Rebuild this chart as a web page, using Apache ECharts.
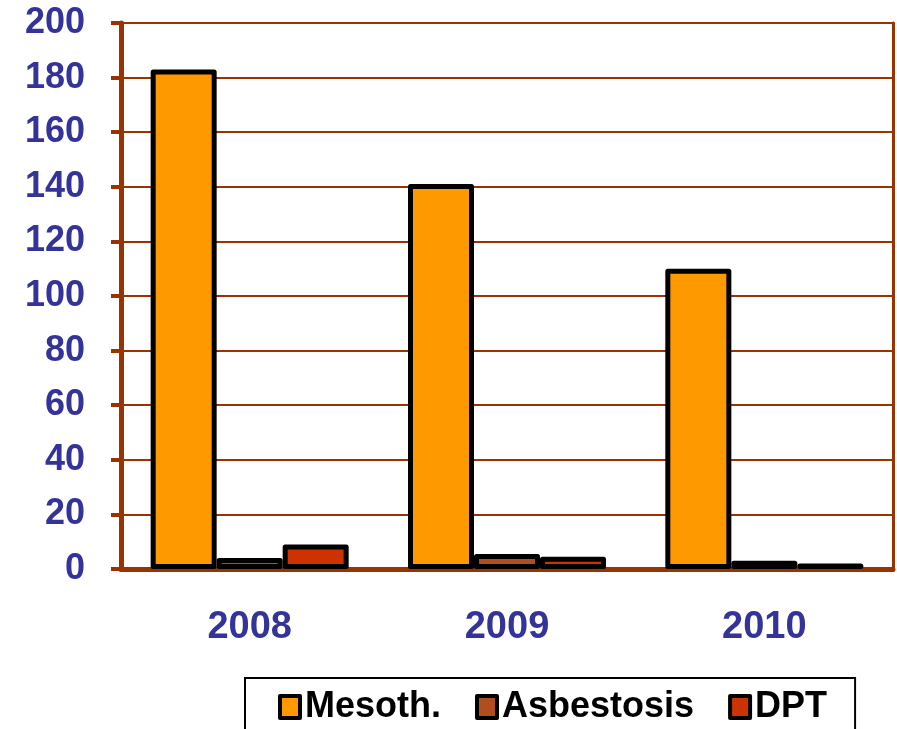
<!DOCTYPE html>
<html>
<head>
<meta charset="utf-8">
<script src="https://cdn.jsdelivr.net/npm/echarts@6/dist/echarts.min.js"></script>
<style>
html,body{margin:0;padding:0;background:#fff;}
#chart{width:897px;height:729px;}
</style>
</head>
<body>
<div id="chart"></div>
<script>
var categories = ['2008', '2009', '2010'];
var mesothValues = [183, 141, 110];
var asbestosisValues = [4, 5.5, 3];
var dptValues = [9, 4.5, 2];
var seriesNames = ['Mesoth.', 'Asbestosis', 'DPT'];
var yTicks = { min: 0, max: 200, interval: 20 };

var chart = echarts.init(document.getElementById('chart'));
var axisColor = '#993300';
var labelColor = '#333399';
var fontFam = '"Liberation Sans", Arial, sans-serif';

function barSeries(name, data, color) {
  return {
    name: name,
    type: 'bar',
    data: data,
    barWidth: 66,
    barGap: '0%',
    itemStyle: { color: color, borderColor: '#000', borderWidth: 5, borderJoin: 'round' },
    emphasis: { disabled: true }
  };
}

chart.setOption({
  animation: false,
  grid: { left: 121, top: 23, right: 4, bottom: 160 },
  legend: {
    left: 245, top: 678,
    padding: [11, 28, 30, 33],
    borderColor: '#000', borderWidth: 2,
    icon: 'rect',
    itemWidth: 20, itemHeight: 22, itemGap: 34, itemTextGap: 6,
    itemStyle: { borderColor: '#000', borderWidth: 4 },
    textStyle: { fontFamily: fontFam, fontWeight: 'bold', fontSize: 36, color: '#000' },
    data: seriesNames
  },
  xAxis: {
    type: 'category',
    data: categories,
    axisLine: { lineStyle: { color: axisColor, width: 5 } },
    axisTick: { length: 10, lineStyle: { color: axisColor, width: 4 } },
    axisLabel: { margin: 40, color: labelColor, fontFamily: fontFam, fontWeight: 'bold', fontSize: 38 }
  },
  yAxis: [{
    type: 'value',
    min: yTicks.min, max: yTicks.max, interval: yTicks.interval,
    axisLine: { show: true, lineStyle: { color: axisColor, width: 5 } },
    axisTick: { show: true, length: 10, lineStyle: { color: axisColor, width: 4 } },
    axisLabel: { margin: 36, color: labelColor, fontFamily: fontFam, fontWeight: 'bold', fontSize: 36 },
    splitLine: { show: true, lineStyle: { color: axisColor, width: 2 } }
  }, {
    type: 'value',
    position: 'right',
    min: yTicks.min, max: yTicks.max, interval: yTicks.interval,
    axisLine: { show: true, lineStyle: { color: axisColor, width: 3 } },
    axisTick: { show: false },
    axisLabel: { show: false },
    splitLine: { show: false }
  }],
  series: [
    barSeries(seriesNames[0], mesothValues, '#FF9900'),
    barSeries(seriesNames[1], asbestosisValues, '#B04E20'),
    barSeries(seriesNames[2], dptValues, '#CC3300')
  ]
});
</script>
</body>
</html>
